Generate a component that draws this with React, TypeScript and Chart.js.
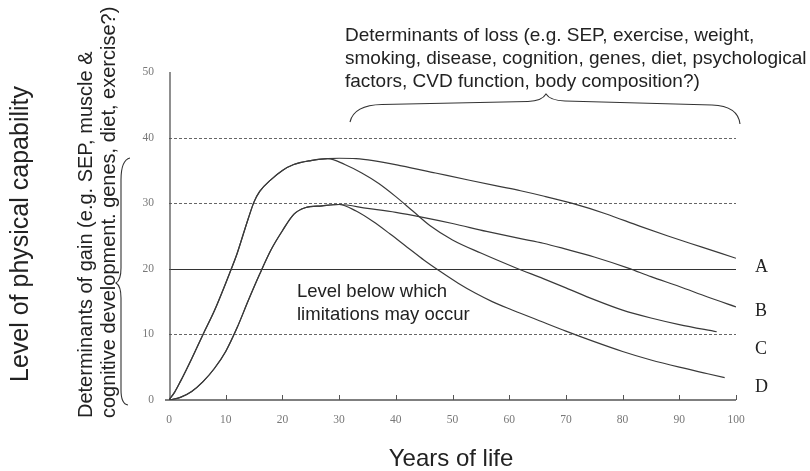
import React, { useEffect, useRef } from "react";
import { Chart, registerables } from "chart.js";

Chart.register(...registerables);

// ---- Data ----
const xTicks = [0, 10, 20, 30, 40, 50, 60, 70, 80, 90, 100];
const yTicks = [0, 10, 20, 30, 40, 50];
const dashedLevels = [10, 30, 40];
const limitLevel = 20;

// Fast rise (shared by A and B)
const riseFastAge = [0, 1, 2, 4, 6, 8, 10, 11, 12, 13, 14, 15, 16, 18, 20, 22, 25, 28];
const riseFastLevel = [0, 1.2, 2.8, 6.3, 10, 13.6, 17.8, 20, 22.3, 25, 27.7, 30.2, 31.8, 33.6, 35, 35.9, 36.5, 36.8];

// Slow rise (shared by C and D)
const riseSlowAge = [0, 2, 4, 6, 8, 10, 12, 14, 16, 18, 20, 22, 24, 27, 30];
const riseSlowLevel = [0, 0.4, 1.3, 2.8, 4.8, 7.4, 11, 15.2, 19.2, 22.9, 25.8, 28.3, 29.3, 29.6, 29.8];

// Declines
const ageA = [30, 33, 36, 41, 47, 53, 58, 62, 66, 71, 77, 83, 88, 94, 100];
const levelA = [36.85, 36.8, 36.5, 35.7, 34.6, 33.5, 32.6, 31.9, 31.1, 30.0, 28.4, 26.5, 25.0, 23.3, 21.6];

const ageB = [31, 34, 37, 40, 43, 46, 50, 55, 61, 66, 70, 75, 80, 85, 90, 96.6];
const levelB = [35.9, 34.6, 33.0, 31.0, 28.8, 26.6, 24.4, 22.4, 20.2, 18.5, 17.1, 15.3, 13.7, 12.5, 11.5, 10.4];

const ageC = [35, 40, 45, 50, 56, 62, 66, 70, 75, 81, 85, 90, 95, 100];
const levelC = [29.2, 28.6, 27.8, 26.9, 25.7, 24.6, 23.9, 23.0, 21.8, 20.1, 18.8, 17.3, 15.7, 14.2];

const ageD = [33, 36, 39, 42, 45, 48, 51, 54, 57, 60, 65, 70, 75, 80, 85, 90, 95, 98];
const levelD = [28.8, 27.2, 25.3, 23.3, 21.3, 19.5, 17.8, 16.3, 15.0, 13.9, 12.2, 10.5, 8.9, 7.4, 6.1, 5.0, 4.0, 3.4];

const seriesNames = ["A", "B", "C", "D"];
const seriesLabelLevel = [20.2, 13.5, 7.8, 2.0];

const xTitle = "Years of life";
const yTitle = "Level of physical capability";
const lossText = [
  "Determinants of loss (e.g. SEP, exercise, weight,",
  "smoking, disease, cognition, genes, diet, psychological",
  "factors, CVD function, body composition?)",
];
const gainText = [
  "Determinants of gain (e.g. SEP, muscle &",
  "cognitive development. genes, diet, exercise?)",
];
const limitText = ["Level below which", "limitations may occur"];

const pts = (ax: number[], ay: number[]) => ax.map((x, i) => ({ x, y: ay[i] }));

const SANS = '"Liberation Sans", Arial, Helvetica, sans-serif';
const SERIF = '"Liberation Serif", "Times New Roman", serif';

const decorPlugin = {
  id: "decor",
  beforeDatasetsDraw(chart: any) {
    const { ctx } = chart;
    const xs = chart.scales.x;
    const ys = chart.scales.y;
    const x0 = xs.getPixelForValue(0);
    const x100 = xs.getPixelForValue(100);
    ctx.save();
    // dashed reference lines
    ctx.strokeStyle = "#666";
    ctx.lineWidth = 1;
    ctx.setLineDash([3, 2]);
    for (const v of dashedLevels) {
      const py = Math.round(ys.getPixelForValue(v)) + 0.5;
      ctx.beginPath();
      ctx.moveTo(x0, py);
      ctx.lineTo(x100, py);
      ctx.stroke();
    }
    ctx.setLineDash([]);
    // solid limitation line
    ctx.strokeStyle = "#333";
    ctx.lineWidth = 1.2;
    const ly = Math.round(ys.getPixelForValue(limitLevel)) + 0.5;
    ctx.beginPath();
    ctx.moveTo(x0, ly);
    ctx.lineTo(x100, ly);
    ctx.stroke();
    // axes
    ctx.strokeStyle = "#555";
    ctx.lineWidth = 1.3;
    const yb = ys.getPixelForValue(0);
    ctx.beginPath();
    ctx.moveTo(x0 + 1, yb);
    ctx.lineTo(x0 + 1, ys.getPixelForValue(50));
    ctx.moveTo(x0 - 4, yb);
    ctx.lineTo(x100, yb);
    ctx.stroke();
    // inside tick marks on x axis
    ctx.lineWidth = 1;
    for (const v of xTicks) {
      if (v === 0) continue;
      const px = Math.round(xs.getPixelForValue(v)) + 0.5;
      ctx.beginPath();
      ctx.moveTo(px, yb);
      ctx.lineTo(px, yb - 5);
      ctx.stroke();
    }
    ctx.restore();
  },
  afterDraw(chart: any) {
    const { ctx } = chart;
    const xs = chart.scales.x;
    const ys = chart.scales.y;
    ctx.save();
    ctx.fillStyle = "#222";
    ctx.textBaseline = "alphabetic";
    ctx.textAlign = "left";

    // loss text
    ctx.font = `19px ${SANS}`;
    const lossY = [40.5, 63.5, 86.5];
    lossText.forEach((t, i) => ctx.fillText(t, 345, lossY[i]));

    // limitation text
    ctx.font = `18.5px ${SANS}`;
    const limY = [297, 320];
    limitText.forEach((t, i) => ctx.fillText(t, 297, limY[i]));

    // x title
    ctx.textAlign = "center";
    ctx.font = `24px ${SANS}`;
    ctx.fillText(xTitle, 451, 466);

    // y title (rotated)
    ctx.font = `25px ${SANS}`;
    ctx.save();
    ctx.translate(28, 234);
    ctx.rotate(-Math.PI / 2);
    ctx.fillText(yTitle, 0, 0);
    ctx.restore();

    // gain text (rotated)
    ctx.font = `20px ${SANS}`;
    ctx.textAlign = "left";
    const gainX = [92, 115];
    gainText.forEach((t, i) => {
      ctx.save();
      ctx.translate(gainX[i], 418);
      ctx.rotate(-Math.PI / 2);
      ctx.fillText(t, 0, 0);
      ctx.restore();
    });

    // series labels
    ctx.font = `18px ${SERIF}`;
    ctx.textBaseline = "middle";
    const lx = xs.getPixelForValue(100) + 19;
    seriesNames.forEach((n, i) => ctx.fillText(n, lx, ys.getPixelForValue(seriesLabelLevel[i])));

    // braces
    ctx.strokeStyle = "#333";
    ctx.lineWidth = 1.1;
    ctx.beginPath();
    ctx.moveTo(350, 122);
    ctx.quadraticCurveTo(354, 105, 382, 104.5);
    ctx.lineTo(528, 101.5);
    ctx.quadraticCurveTo(542, 101, 546, 94);
    ctx.quadraticCurveTo(550, 100.5, 565, 101);
    ctx.lineTo(712, 105);
    ctx.quadraticCurveTo(738, 106, 740, 124);
    ctx.stroke();

    ctx.beginPath();
    ctx.moveTo(130, 158);
    ctx.quadraticCurveTo(121, 160, 121, 180);
    ctx.lineTo(121, 268);
    ctx.quadraticCurveTo(121, 280, 116, 283);
    ctx.quadraticCurveTo(121, 286, 121, 298);
    ctx.lineTo(121, 390);
    ctx.quadraticCurveTo(121, 404, 128, 405);
    ctx.stroke();

    ctx.restore();
  },
};

export default function App() {
  const ref = useRef<HTMLCanvasElement>(null);
  useEffect(() => {
    document.body.style.margin = "0";
    const line = (data: { x: number; y: number }[]) => ({
      data,
      borderColor: "#3a3a3a",
      borderWidth: 1.2,
      pointRadius: 0,
      fill: false,
      cubicInterpolationMode: "monotone" as const,
    });
    const chart = new Chart(ref.current!, {
      type: "line",
      data: {
        datasets: [
          line([...pts(riseFastAge, riseFastLevel), ...pts(ageA, levelA)]),
          line([...pts(riseFastAge, riseFastLevel), ...pts(ageB, levelB)]),
          line([...pts(riseSlowAge, riseSlowLevel), ...pts(ageC, levelC)]),
          line([...pts(riseSlowAge, riseSlowLevel), ...pts(ageD, levelD)]),
        ],
      },
      options: {
        animation: false,
        responsive: false,
        maintainAspectRatio: false,
        devicePixelRatio: 1,
        layout: { padding: { top: 72, right: 74, left: 0, bottom: 0 } },
        plugins: { legend: { display: false }, tooltip: { enabled: false } },
        scales: {
          x: {
            type: "linear",
            min: 0,
            max: 100,
            afterFit: (s: any) => {
              s.height = 71;
            },
            afterBuildTicks: (s: any) => {
              s.ticks = xTicks.map((v) => ({ value: v }));
            },
            grid: { display: false, drawTicks: false },
            border: { display: false },
            ticks: {
              font: { family: SERIF, size: 11.5 },
              color: "#777",
              padding: 13,
              maxRotation: 0,
              autoSkip: false,
            },
          },
          y: {
            type: "linear",
            min: 0,
            max: 50,
            afterFit: (s: any) => {
              s.width = 169;
            },
            afterBuildTicks: (s: any) => {
              s.ticks = yTicks.map((v) => ({ value: v }));
            },
            grid: { display: false, drawTicks: false },
            border: { display: false },
            ticks: {
              font: { family: SERIF, size: 11.5 },
              color: "#777",
              padding: 15,
              autoSkip: false,
            },
          },
        },
      },
      plugins: [decorPlugin],
    } as any);
    return () => chart.destroy();
  }, []);
  return (
    <div style={{ position: "absolute", left: 0, top: 0, width: 810, height: 471, background: "#fff" }}>
      <canvas ref={ref} width={810} height={471} style={{ display: "block" }} />
    </div>
  );
}
